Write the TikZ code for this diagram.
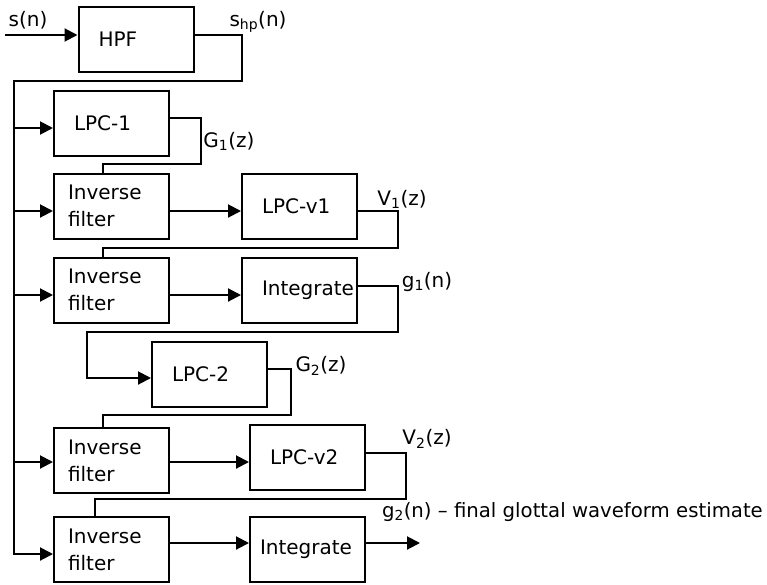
\documentclass[tikz,border=0pt]{standalone}
\usepackage{fontspec}
\setmainfont{DejaVu Sans}
\usetikzlibrary{arrows.meta,positioning}

\begin{document}
\begin{tikzpicture}[
  x=1pt, y=-1pt,
  line width=2pt,
  txt/.style={font=\fontsize{20}{27}\selectfont},
  block/.style={txt, draw, minimum height=65pt, text width=75pt, inner xsep=20pt, align=left},
  invblock/.style={block, text width=87pt, inner xsep=14pt},
  sig/.style={txt, inner sep=0pt},
  arr/.style={-{Triangle[length=13pt,width=13pt]}}
]
  \useasboundingbox (0,0) rectangle (767,584);

  % blocks
  \node[block] (hpf) at (136,39.5) {HPF};
  \node[block] (lpc1) at (111.5,123) {LPC-1};
  \node[invblock] (inv1) at (111.5,206) {Inverse\\filter};
  \node[block] (lpcv1) at (299.5,206.5) {LPC-v1};
  \node[invblock] (inv2) at (111.5,290) {Inverse\\filter};
  \node[block] (int1) at (299.5,290) {Integrate};
  \node[block] (lpc2) at (209.5,374) {LPC-2};
  \node[invblock] (inv3) at (111.5,460.5) {Inverse\\filter};
  \node[block] (lpcv2) at (307.5,457.5) {LPC-v2};
  \node[invblock] (inv4) at (111.5,549.5) {Inverse\\filter};
  \node[block, text width=95pt, inner xsep=10pt] (int2) at (307.5,549) {Integrate};

  % signal labels
  \node[sig] (sn) at (28,20) {s(n)};
  \node[sig] (shp) at (258,22) {s\textsubscript{hp}(n)};
  \node[sig] (g1z) at (229,141) {G\textsubscript{1}(z)};
  \node[sig] (v1z) at (402,199) {V\textsubscript{1}(z)};
  \node[sig] (g1n) at (427,282) {g\textsubscript{1}(n)};
  \node[sig] (g2z) at (321,366) {G\textsubscript{2}(z)};
  \node[sig] (v2z) at (427,439) {V\textsubscript{2}(z)};
  \node[sig, anchor=west, font=\fontsize{19.7}{27}\selectfont] (g2n) at (381,512) {g\textsubscript{2}(n) -- final glottal waveform estimate};

  % input and distribution line
  \coordinate (src) at (5,35);
  \coordinate (tap) at (14,81);
  \draw[arr] (src) -- (hpf.west |- src);
  \draw[arr] (hpf.east |- src) -| (242,81) -- (tap) -- (tap |- 0,554) -- (inv4.west |- 0,554);
  \foreach \b/\y in {lpc1/128,inv1/211,inv2/295,inv3/462}
    \draw[arr] (tap |- 0,\y) -- (\b.west |- 0,\y);

  % forward paths
  \draw[arr] (inv1.east |- 0,211) -- (lpcv1.west |- 0,211);
  \draw[arr] (inv2.east |- 0,295) -- (int1.west |- 0,295);
  \draw[arr] (inv3.east |- 0,462) -- (lpcv2.west |- 0,462);
  \draw[arr] (inv4.east |- 0,543) -- (int2.west |- 0,543);
  \coordinate (out) at (420,543);
  \draw[arr] (int2.east |- out) -- (out);

  % filter coefficients fed back
  \draw (lpc1.east |- 0,118) -| (201,164) -| (inv1.north -| 103,0);
  \draw (lpcv1.east |- 0,211) -| (398,248) -| (inv2.north -| 103,0);
  \draw[arr] (int1.east |- 0,286) -| (398,332) -| (87,378) -- (lpc2.west |- 0,378);
  \draw (lpc2.east |- 0,369) -| (291,415) -| (inv3.north -| 103,0);
  \draw (lpcv2.east |- 0,453) -| (406,499) -| (inv4.north -| 95,0);
\end{tikzpicture}
\end{document}
